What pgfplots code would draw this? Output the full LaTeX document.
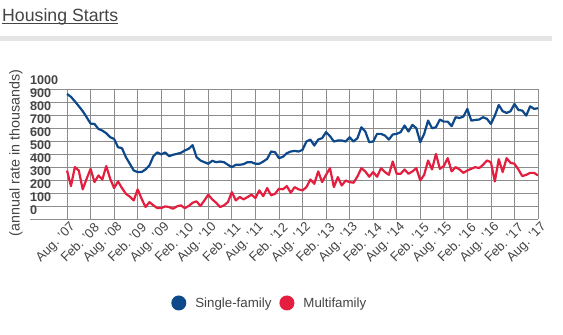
\documentclass[border=0pt]{standalone}
\usepackage{fontspec}
\setmainfont{Liberation Sans}
\usepackage{pgfplots}
\pgfplotsset{compat=1.18}
\usepackage{pgfplotstable}
\definecolor{sfblue}{RGB}{12,72,138}
\definecolor{mfred}{RGB}{228,30,62}
\definecolor{gridgray}{RGB}{140,140,140}
\definecolor{txtgray}{RGB}{68,68,68}
\definecolor{bargray}{RGB}{229,229,229}

\pgfplotstableread{
i sf mf
0 962 373
1 940 253
2 905 399
3 868 373
4 830 228
5 783 309
6 734 386
7 731 284
8 693 335
9 680 304
10 660 407
11 629 309
12 616 238
13 552 289
14 545 238
15 476 194
16 425 172
17 373 143
18 361 228
19 361 156
20 381 92
21 412 130
22 483 105
23 512 84
24 497 84
25 512 97
26 483 92
27 494 79
28 501 97
29 509 105
30 527 84
31 540 100
32 568 125
33 476 136
34 450 100
35 437 143
36 425 187
37 448 151
38 437 125
39 442 92
40 437 105
41 417 130
42 399 207
43 417 143
44 417 169
45 422 151
46 437 169
47 437 187
48 425 161
49 425 220
50 442 176
51 463 238
52 519 182
53 514 194
54 468 233
55 478 228
56 506 253
57 519 202
58 524 245
59 519 228
60 532 220
61 596 245
62 611 304
63 565 271
64 611 366
65 622 284
66 668 340
67 637 391
68 596 245
69 604 322
70 604 258
71 596 296
72 629 284
73 596 279
74 622 327
75 706 391
76 673 366
77 591 325
78 596 361
79 655 325
80 655 391
81 642 361
82 611 340
83 650 442
84 655 348
85 668 348
86 719 381
87 673 348
88 724 366
89 698 391
90 591 297
91 655 340
92 757 450
93 698 381
94 706 501
95 765 386
96 749 407
97 749 468
98 714 366
99 783 399
100 777 381
101 788 355
102 847 373
103 757 386
104 762 399
105 765 391
106 783 417
107 770 450
108 731 437
109 795 289
110 877 460
111 829 361
112 816 468
113 829 432
114 885 425
115 839 381
116 834 330
117 795 340
118 867 355
119 847 355
120 852 335
}\housing

\begin{document}
\begin{tikzpicture}[x=1pt,y=1pt]
\path (0,0) rectangle (563,335);
\fill[bargray] (0,294) rectangle (552,299);
\node[anchor=base west, inner sep=0pt, font=\fontsize{17.7}{20}\selectfont, text=txtgray] (title) at (2,313.4) {Housing Starts};
\draw[txtgray, line width=0.9pt] ([yshift=-2pt]title.base west) -- ([yshift=-2pt]title.base east);
\begin{axis}[
  at={(30pt,116pt)}, anchor=south west,
  scale only axis, width=508pt, height=130pt,
  xmin=-9.43, xmax=120, ymin=0, ymax=1000,
  axis line style={draw=none},
  major tick length=0pt,
  grid=major,
  grid style={gridgray, line width=0.8pt},
  xtick={0,6,...,120},
  xticklabels={Aug. '07, Feb. '08, Aug. '08, Feb. '09, Aug. '09, Feb. '10, Aug. '10, Feb. '11, Aug. '11, Feb. '12, Aug. '12, Feb. '13, Aug. '13, Feb. '14, Aug. '14, Feb. '15, Aug. '15, Feb. '16, Aug. '16, Feb. '17, Aug. '17},
  ytick={0,100,...,1000},
  yticklabels={0,100,200,300,400,500,600,700,800,900,1000},
  yticklabel style={anchor=west, inner sep=0pt, yshift=9pt, font=\fontsize{12.6}{14}\selectfont\bfseries, text=txtgray},
  xticklabel style={rotate=45, anchor=east, inner sep=1pt, yshift=-9pt, xshift=1pt, font=\fontsize{13}{15}\selectfont, text=txtgray},
  ylabel={(annual rate in thousands)},
  ylabel style={at={(axis description cs:-0.0276,0.508)}, anchor=center, font=\fontsize{14.3}{16}\selectfont, text=txtgray},
  legend style={at={(axis description cs:0.472,-0.646)}, anchor=center, draw=none, fill=none, legend columns=2, font=\fontsize{13.3}{15}\selectfont, text=txtgray, /tikz/every even column/.append style={column sep=6pt}},
  legend image code/.code={\fill[#1, draw=none] (0pt,0pt) circle (7.5pt); \path[draw=none] (0pt,0pt) -- (14.5pt,0pt);},
]
\addplot[sfblue, line width=2.2pt, line join=round] table[x=i,y=sf]{\housing};
\addlegendentry{Single-family}
\addplot[mfred, line width=2.2pt, line join=round] table[x=i,y=mf]{\housing};
\addlegendentry{Multifamily}
\end{axis}
\end{tikzpicture}
\end{document}
